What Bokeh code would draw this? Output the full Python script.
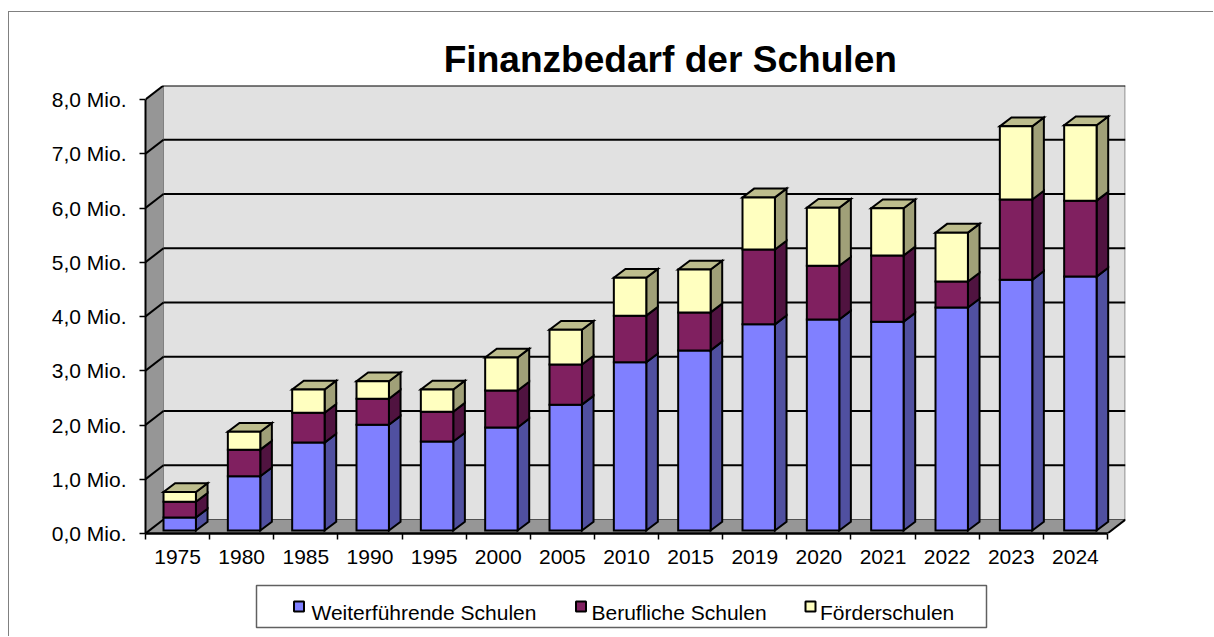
from bokeh.plotting import figure
from bokeh.layouts import column
from bokeh.core.properties import value
from bokeh.models import (ColumnDataSource, FixedTicker, Range1d)
from bokeh.embed import file_html
from bokeh.resources import INLINE

years = ["1975","1980","1985","1990","1995","2000","2005","2010","2015","2019","2020","2021","2022","2023","2024"]
weiterfuehrend = [0.24,1.00,1.62,1.95,1.64,1.90,2.32,3.10,3.32,3.80,3.89,3.85,4.11,4.62,4.68]
beruflich      = [0.29,0.49,0.55,0.48,0.55,0.68,0.74,0.86,0.70,1.38,0.99,1.22,0.48,1.48,1.40]
foerder        = [0.18,0.33,0.43,0.32,0.41,0.61,0.64,0.70,0.79,0.96,1.07,0.87,0.90,1.35,1.39]
y_ticks = [0,1,2,3,4,5,6,7,8]
y_labels = ["0,0 Mio.","1,0 Mio.","2,0 Mio.","3,0 Mio.","4,0 Mio.","5,0 Mio.","6,0 Mio.","7,0 Mio.","8,0 Mio."]
title_text = "Finanzbedarf der Schulen"

FONT = "Liberation Sans"
N = len(years)
WALL_DX = 18 / 64.09
WALL_DY = 14 / 54.25
BAR_OFF = 18 / 64.09
BAR_STEP = 64.29 / 64.09
BAR_W = 32.4 / 64.09
BAR_DX = 11.6 / 64.09
BAR_DY = 8.8 / 54.25
BAR_BASE = 3 / 54.25
LW = 2

# header strip holding the title
t = figure(width=1204, height=73, output_backend="svg", toolbar_location=None,
           x_range=Range1d(0, 1204), y_range=Range1d(0, 73), frame_align=False,
           min_border_left=0, min_border_right=0, min_border_top=0, min_border_bottom=0,
           x_axis_location=None, y_axis_location=None,
           background_fill_color="white", border_fill_color="white", outline_line_color=None)
t.grid.visible = False
t.text(x=[660.8], y=[26.5], text=[title_text], text_font=value(FONT), text_font_size="37.1px",
       text_font_style="bold", text_color="black", text_align="center", text_baseline="alphabetic")

p = figure(width=1204, height=497, output_backend="svg", toolbar_location=None,
           x_range=Range1d(0, N + WALL_DX), y_range=Range1d(0, 8 + WALL_DY), frame_align=False,
           frame_width=980, frame_height=448,
           min_border_left=136, min_border_right=88, min_border_top=0, min_border_bottom=49,
           background_fill_color="white", border_fill_color="white", outline_line_color=None)
p.grid.visible = False

# walls and floor
p.patch([WALL_DX, N + WALL_DX, N + WALL_DX, WALL_DX], [WALL_DY, WALL_DY, 8 + WALL_DY, 8 + WALL_DY],
        fill_color="#e1e1e1", line_color=None)
p.line([N + WALL_DX, N + WALL_DX], [WALL_DY, 8 + WALL_DY], line_color="#b0b0b0", line_width=3)
p.patch([0, WALL_DX, WALL_DX, 0], [0, WALL_DY, 8 + WALL_DY, 8], fill_color="#969696", line_color=None)
p.patch([0, N, N + WALL_DX, WALL_DX], [0, 0, WALL_DY, WALL_DY], fill_color="#969696", line_color=None)
p.line([WALL_DX, N + WALL_DX], [WALL_DY, WALL_DY], line_color="#505050", line_width=1)
p.line([N, N + WALL_DX], [0, WALL_DY], line_color="black", line_width=2)
p.line([WALL_DX, WALL_DX], [WALL_DY, 8 + WALL_DY], line_color="#808080", line_width=1)

# grid lines on the walls
for v in y_ticks:
    if v > 0:
        p.line([WALL_DX, N + WALL_DX], [v + WALL_DY, v + WALL_DY], line_color="black", line_width=2)
    p.line([0, WALL_DX], [v, v + WALL_DY], line_color="black", line_width=2)

series = [("Weiterführende Schulen", weiterfuehrend, "#8080ff", "#5050a0", "#5050a0"),
          ("Berufliche Schulen", beruflich, "#802060", "#501340", "#501340"),
          ("Förderschulen", foerder, "#ffffc0", "#a0a078", "#bdbd8d")]

base = [BAR_BASE] * N
for name, vals, front, side, top in series:
    tops = [b + v for b, v in zip(base, vals)]
    lefts = [BAR_OFF + i * BAR_STEP for i in range(N)]
    rights = [l + BAR_W for l in lefts]
    sx = [[r, r + BAR_DX, r + BAR_DX, r] for r in rights]
    sy = [[b, b + BAR_DY, t_ + BAR_DY, t_] for b, t_ in zip(base, tops)]
    p.patches(sx, sy, fill_color=side, line_color="black", line_width=LW, line_join="miter")
    if name == series[-1][0]:
        tx = [[l, r, r + BAR_DX, l + BAR_DX] for l, r in zip(lefts, rights)]
        ty = [[t_, t_, t_ + BAR_DY, t_ + BAR_DY] for t_ in tops]
        p.patches(tx, ty, fill_color=top, line_color="black", line_width=LW, line_join="miter")
    src = ColumnDataSource(dict(left=lefts, right=rights, bottom=base, top=tops))
    p.quad(left="left", right="right", bottom="bottom", top="top", source=src,
           fill_color=front, line_color="black", line_width=LW, line_join="miter")
    base = tops

# axes
yax = p.yaxis[0]
yax.ticker = FixedTicker(ticks=y_ticks)
yax.major_label_overrides = {v: l for v, l in zip(y_ticks, y_labels)}
yax.bounds = (0, 8)
yax.axis_line_color = "black"; yax.axis_line_width = 2
yax.major_tick_line_color = "black"; yax.major_tick_line_width = 1.5
yax.major_tick_in = 0; yax.major_tick_out = 6
yax.minor_tick_line_color = None
yax.major_label_text_font = FONT; yax.major_label_text_font_size = "21px"
yax.major_label_text_color = "black"
yax.major_label_standoff = 13

xax = p.xaxis[0]
centres = [i + 0.5 for i in range(N)]
xax.ticker = FixedTicker(ticks=centres, minor_ticks=list(range(N + 1)))
xax.major_label_overrides = {c: y for c, y in zip(centres, years)}
xax.bounds = (0, N)
xax.axis_line_color = "black"; xax.axis_line_width = 2.5
xax.major_tick_line_color = None; xax.major_tick_in = 0; xax.major_tick_out = 0
xax.minor_tick_line_color = "black"; xax.minor_tick_line_width = 1.5
xax.minor_tick_in = 0; xax.minor_tick_out = 6
xax.major_label_text_font = FONT; xax.major_label_text_font_size = "21px"
xax.major_label_text_color = "black"
xax.major_label_standoff = 10

# legend strip: a box with one square and one text per series
q = figure(width=734, height=46, output_backend="svg", toolbar_location=None,
           x_range=Range1d(0, 734), y_range=Range1d(0, 46), frame_align=False,
           min_border_left=0, min_border_right=0, min_border_top=0, min_border_bottom=0,
           x_axis_location=None, y_axis_location=None,
           background_fill_color="white", border_fill_color="white", outline_line_color=None,
           margin=(1, 0, 7, 245))
q.grid.visible = False
q.quad(left=[2], right=[732], bottom=[2], top=[44], fill_color="white",
       line_color="#606060", line_width=1.5)
marker_x = [44.5, 326.5, 556]
label_x = [57, 337, 565.5]
q.scatter(x=marker_x, y=[23, 23, 23], marker="square", size=10,
          fill_color=[s[2] for s in series], line_color="black", line_width=2)
q.text(x=label_x, y=[16.8, 16.8, 16.8], text=[s[0] for s in series], text_font=value(FONT),
       text_font_size="21px", text_color="black", text_align="left", text_baseline="alphabetic")

page = column(t, p, q, margin=(11, 0, 0, 8),
              styles={"border-left": "1.5px solid #808080", "border-top": "1.5px solid #808080"})

open("out.html", "w").write(file_html(page, INLINE))
